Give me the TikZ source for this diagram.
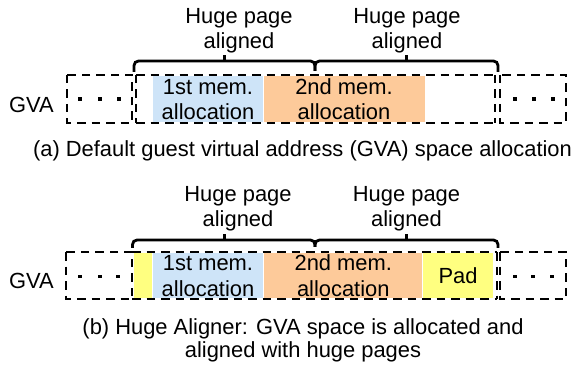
\documentclass[tikz,border=0pt]{standalone}
\usepackage{fontspec}
\setmainfont{Liberation Sans}
\definecolor{memblue}{RGB}{206,228,248}
\definecolor{memorange}{RGB}{253,202,154}
\definecolor{padyellow}{RGB}{255,255,128}
\begin{document}
\begin{tikzpicture}[x=1pt,y=-1pt,
  txt/.style={font=\fontsize{21.9}{25}\selectfont, inner sep=0pt, anchor=base},
  sidebox/.style={draw, line width=2.8pt, dash pattern=on 8.5pt off 6pt},
  hedge/.style={line width=2pt, dash pattern=on 8.5pt off 6pt},
  vedge/.style={line width=2.8pt, dash pattern=on 8.5pt off 6pt},
  bracket/.style={line width=2.8pt, rounded corners=4.5pt},
  tip/.style={line width=2.8pt},
]
\useasboundingbox (0,0) rectangle (573,366);

% ---------- (a) default allocation ----------
\fill[memblue]   (153,76.5) rectangle (263,122);
\fill[memorange] (264,76.5) rectangle (425,122);

\draw[sidebox] (67,75) rectangle (132,123);
\draw[hedge] (136,75) -- (495,75);
\draw[hedge] (136,123) -- (495,123);
\draw[vedge] (136,75) -- (136,123);
\draw[vedge] (495,75) -- (495,123);
\draw[sidebox] (500,75) rectangle (566,123);

\foreach \x in {80,100,119,515,534,553}
  \fill (\x-1.9,99-1.9) rectangle ++(3.8,3.8);

\coordinate (aL) at (134,72);
\coordinate (aM) at (315,71);
\coordinate (aR) at (498,72);
\draw[bracket] (aL) |- (224.5,61) -| (aM);
\draw[bracket] (aM) |- (406.5,61) -| (aR);
\draw[tip] (224.5,61) -- (224.5,55.5);
\draw[tip] (406.5,61) -- (406.5,55.5);

\node[txt] (ahp1) at (239,23.5) {Huge page};
\node[txt] (aal1) at (239,48.5) {aligned};
\node[txt] (ahp2) at (407,23.5) {Huge page};
\node[txt] (aal2) at (407,48.5) {aligned};

\node[txt] (agva) at (31.5,112.5) {GVA};
\node[txt] (am1a) at (208,94.3) {1st mem.};
\node[txt] (am1b) at (208,119.3) {allocation};
\node[txt] (am2a) at (344,94.3) {2nd mem.};
\node[txt] (am2b) at (344,119.3) {allocation};

\node[txt] (acap) at (302.5,156.7) {(a) Default guest virtual address (GVA) space allocation};

% ---------- (b) Huge Aligner ----------
\fill[padyellow] (133.5,253) rectangle (152,298);
\fill[memblue]   (153,253) rectangle (263,298);
\fill[memorange] (264,253) rectangle (422,298);
\fill[padyellow] (423,253) rectangle (493,298);

\draw[sidebox] (66,252) rectangle (132,299);
\draw[hedge] (132,252) -- (497,252);
\draw[hedge] (132,299) -- (497,299);
\draw[vedge] (497,252) -- (497,299);
\draw[sidebox] (500,252) rectangle (566,299);

\foreach \x in {80,100,118,515,533,552}
  \fill (\x-1.9,276.5-1.9) rectangle ++(3.8,3.8);

\coordinate (bL) at (132.5,248);
\coordinate (bM) at (315,247);
\coordinate (bR) at (498,248);
\draw[bracket] (bL) |- (224.5,240) -| (bM);
\draw[bracket] (bM) |- (406.5,240) -| (bR);
\draw[tip] (224.5,240) -- (224.5,234.5);
\draw[tip] (406.5,240) -- (406.5,234.5);

\node[txt] (bhp1) at (238,202) {Huge page};
\node[txt] (bal1) at (238,226.5) {aligned};
\node[txt] (bhp2) at (406.5,202) {Huge page};
\node[txt] (bal2) at (406.5,226.5) {aligned};

\node[txt] (bgva) at (31.5,288.3) {GVA};
\node[txt] (bm1a) at (208,270.7) {1st mem.};
\node[txt] (bm1b) at (208,296) {allocation};
\node[txt] (bm2a) at (343.3,270.7) {2nd mem.};
\node[txt] (bm2b) at (343.3,296) {allocation};
\node[txt] (bpad) at (458,283.3) {Pad};

\node[txt] (bcap1) at (303,334.5) {(b) Huge Aligner: GVA space is allocated and};
\node[txt] (bcap2) at (303,357.7) {aligned with huge pages};
\end{tikzpicture}
\end{document}
